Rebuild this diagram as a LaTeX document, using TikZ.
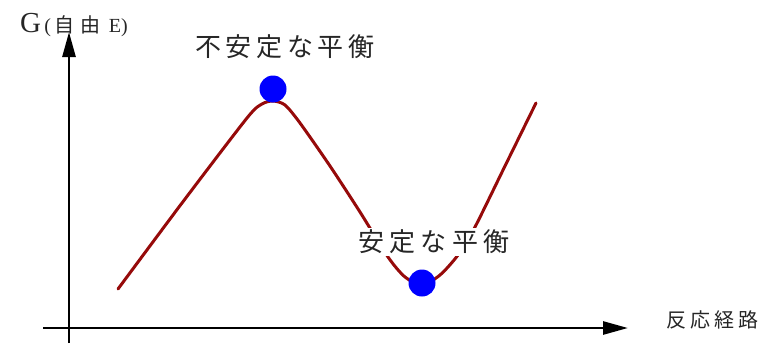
\documentclass[tikz,border=0pt]{standalone}
\usepackage{fontspec}
\setmainfont{Liberation Serif}
\newfontfamily\jp{Noto Sans CJK JP}
\newfontfamily\jpa[LetterSpace=18]{Noto Sans CJK JP}
\newfontfamily\jpb[LetterSpace=20]{Noto Sans CJK JP}
\usetikzlibrary{arrows.meta}
\definecolor{curvered}{RGB}{150,10,10}
\definecolor{dotblue}{RGB}{0,0,255}
\tikzset{
  axis/.style={line width=2.7pt,-{Triangle[length=25pt,width=13pt]}},
  energy/.style={draw=curvered,line width=3pt,line cap=round,line join=round},
  ball/.style={circle,fill=dotblue,minimum size=27pt,inner sep=0pt},
  lbl/.style={inner sep=0pt,text=black!85},
}
\begin{document}
\begin{tikzpicture}[x=1pt,y=-1pt]
\useasboundingbox (0,0) rectangle (758,343);
% axes
\coordinate (yb) at (69,343);
\coordinate (yt) at (69,32);
\coordinate (xl) at (43,328);
\coordinate (xr) at (628,328);
\draw[axis] (yb) -- (yt);
\draw[axis] (xl) -- (xr);
% curve
\draw[energy] plot[smooth,tension=0.45] coordinates {
 (118,289) (182,203) (247,118) (262,104) (273,101) (285,105) (300,123)
 (330,166) (360,212) (388,257) (405,277) (422,285) (440,275) (458,255)
 (475,227) (505,166) (536,103)};
% labels
\node[lbl,anchor=base west] (glab) at (20,32)
  {{\fontsize{29}{29}\selectfont G}{\fontsize{20}{20}\selectfont\,(\,{\jp 自}\;{\jp 由}\;\,E)}};
\node[lbl,anchor=center,font=\fontsize{26}{26}\selectfont\jpa] (unstable) at (285,47) {不安定な平衡};
\node[lbl,anchor=center,fill=white,inner ysep=2pt,inner xsep=2pt,font=\fontsize{26}{26}\selectfont\jpb] (stable) at (434,242) {安定な平衡};
\node[lbl,anchor=center,font=\fontsize{20}{20}\selectfont\jpb] (path) at (712,320) {反応経路};
% balls
\node[ball] (top) at (273,89) {};
\node[ball] (bottom) at (422,283) {};
\end{tikzpicture}
\end{document}
